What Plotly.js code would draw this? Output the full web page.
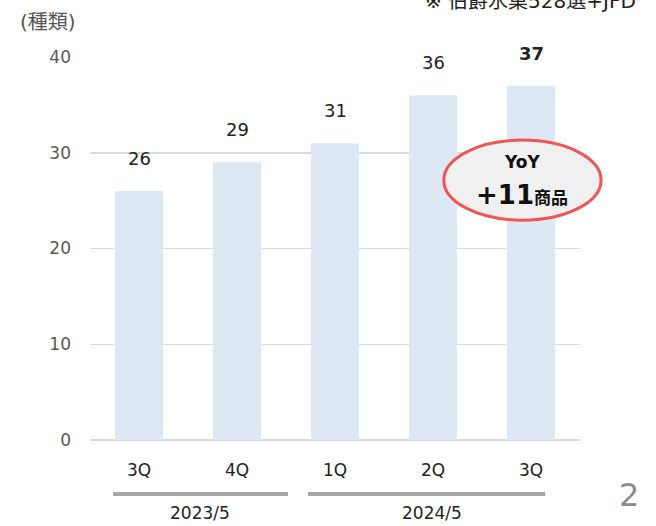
<!DOCTYPE html>
<html><head><meta charset="utf-8">
<script src="https://cdn.plot.ly/plotly-3.0.1.min.js"></script>
<style>html,body{margin:0;padding:0;background:#fff}</style>
</head><body><div id="chart" style="width:656px;height:526px"></div>
<script>
var categories = ["3Q", "4Q", "1Q ", "2Q", "3Q "];
var tickLabels = ["3Q", "4Q", "1Q", "2Q", "3Q"];
var values = [26, 29, 31, 36, 37];
var groups = ["2023/5", "2024/5"];
var yTicks = [0, 10, 20, 30, 40];

var FONT = "DejaVu Sans, Noto Sans CJK JP, sans-serif";
var ann = [];
values.forEach(function(v, i){
  ann.push({x: categories[i], y: v, xref:'x', yref:'y', text: (i===values.length-1 ? '<b>'+v+'</b>' : String(v)),
    showarrow:false, yanchor:'bottom', yshift:20, font:{family:FONT, size:18, color:'#222'}});
});
ann.push({xref:'paper', yref:'paper', x:0.225, y:-0.16, text:groups[0], showarrow:false, xanchor:'center', yanchor:'top', font:{family:FONT, size:17, color:'#222'}});
ann.push({xref:'paper', yref:'paper', x:0.697, y:-0.16, text:groups[1], showarrow:false, xanchor:'center', yanchor:'top', font:{family:FONT, size:17, color:'#222'}});
ann.push({xref:'paper', yref:'paper', x:-0.0245, y:1.055, text:'(種類)', showarrow:false, xanchor:'right', yanchor:'bottom', font:{family:FONT, size:20, color:'#555'}});
ann.push({xref:'paper', yref:'paper', x:1.1, y:-0.144, text:'2', showarrow:false, xanchor:'center', yanchor:'middle', font:{family:FONT, size:32, color:'#8c8c8c'}});
ann.push({xref:'paper', yref:'paper', x:0.68, y:1.145, text:'※ 伯爵水菓528選+JFD', showarrow:false, xanchor:'left', yanchor:'middle', font:{family:FONT, size:20, color:'#222'}});
ann.push({xref:'paper', yref:'paper', x:0.881, y:0.726, text:'<b>YoY</b>', showarrow:false, xanchor:'center', yanchor:'middle', font:{family:FONT, size:17, color:'#111'}});
ann.push({xref:'paper', yref:'paper', x:0.881, y:0.640, text:'<b><span style="font-size:26px">+11</span>商品</b>', showarrow:false, xanchor:'center', yanchor:'middle', font:{family:FONT, size:17, color:'#111'}});

var shapes = [
  {type:'line', xref:'paper', yref:'paper', x0:0.047, x1:0.404, y0:-0.141, y1:-0.141, line:{color:'#a6a6a6', width:4}},
  {type:'line', xref:'paper', yref:'paper', x0:0.445, x1:0.929, y0:-0.141, y1:-0.141, line:{color:'#a6a6a6', width:4}},
  {type:'circle', xref:'paper', yref:'paper', x0:0.722, x1:1.043, y0:0.574, y1:0.783, fillcolor:'#f0f0f0', line:{color:'#f05555', width:3}}
];

Plotly.newPlot('chart', [{
  type:'bar', x:categories, y:values, marker:{color:'#dde8f4'}, hoverinfo:'skip'
}], {
  width:656, height:526,
  margin:{l:90, r:76, t:57, b:86},
  paper_bgcolor:'#fff', plot_bgcolor:'#fff',
  bargap:0.51,
  showlegend:false,
  font:{family:FONT},
  xaxis:{type:'category', tickvals:categories, ticktext:tickLabels, showgrid:false, zeroline:false, showline:false,
    ticks:'', ticklabelstandoff:18, tickfont:{family:FONT, size:17, color:'#222'}, range:[-0.5,4.5], fixedrange:true},
  yaxis:{range:[0,40], tickvals:yTicks, showgrid:true, gridcolor:'#d9d9d9', gridwidth:1.5, zeroline:true, zerolinecolor:'#d9d9d9', zerolinewidth:1.5,
    showline:false, ticks:'', ticklabelstandoff:18, tickfont:{family:FONT, size:17, color:'#595959'}, fixedrange:true},
  annotations:ann,
  shapes:shapes
}, {displayModeBar:false, staticPlot:true});
</script></body></html>
